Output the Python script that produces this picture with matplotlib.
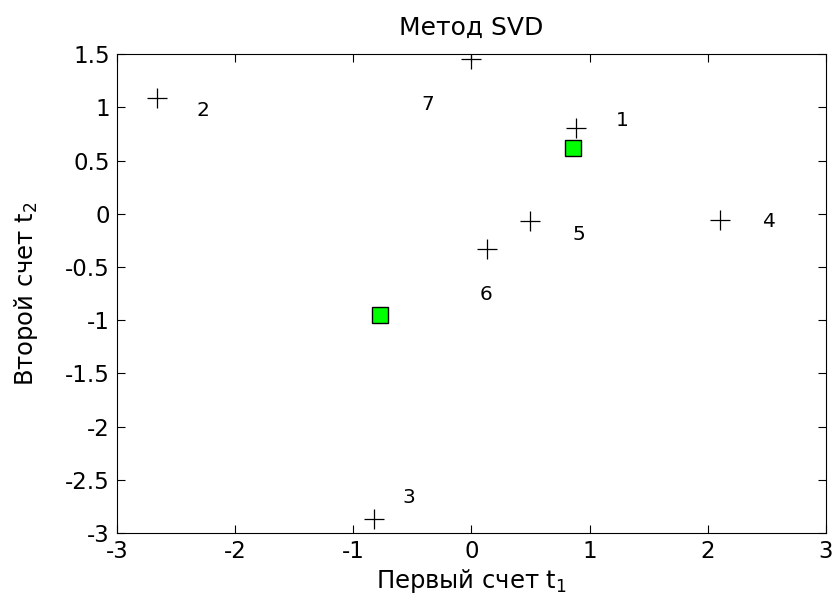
import matplotlib
matplotlib.use('Agg')
import matplotlib.pyplot as plt

plt.rcParams['font.family'] = 'DejaVu Sans'
plt.rcParams['mathtext.fontset'] = 'dejavusans'
plt.rcParams['axes.unicode_minus'] = False

# Счета объектов (крестики)
t1 = [0.883, -2.664, -0.829, 2.104, 0.499, 0.130, -0.005]
t2 = [0.811, 1.086, -2.864, -0.054, -0.070, -0.330, 1.453]

# Подписи объектов
metki = ['1', '2', '3', '4', '5', '6', '7']
metki_x = [1.275, -2.27, -0.533, 2.525, 0.905, 0.124, -0.366]
metki_y = [0.873, 0.974, -2.67, -0.07, -0.19, -0.756, 1.03]

# Центры (зелёные квадраты)
centr_x = [0.858, -0.775]
centr_y = [0.614, -0.953]

fig = plt.figure(figsize=(8.37, 6.03), dpi=100)
ax = fig.add_axes([0.1398, 0.1161, 0.847, 0.794])

ax.plot(t1, t2, '+', color='black', markersize=15, markeredgewidth=0.9)
ax.plot(centr_x, centr_y, 's', markerfacecolor='#00ff00', markeredgecolor='black',
        markersize=12, markeredgewidth=1.0)

for m, x, y in zip(metki, metki_x, metki_y):
    ax.text(x, y, m, ha='center', va='center', fontsize=14.5)

ax.set_xlim(-3, 3)
ax.set_ylim(-3, 1.5)
ax.set_xticks([-3, -2, -1, 0, 1, 2, 3])
ax.set_yticks([-3, -2.5, -2, -1.5, -1, -0.5, 0, 0.5, 1, 1.5])
ax.set_yticklabels(['-3', '-2.5', '-2', '-1.5', '-1', '-0.5', '0', '0.5', '1', '1.5'])
ax.tick_params(direction='in', top=True, right=True, length=6, width=0.8,
               labelsize=16.5, pad=5)

ax.set_title('Метод SVD', fontsize=18, pad=14)
ax.set_xlabel('Первый счет t$_1$', fontsize=17.5, labelpad=3)
ax.set_ylabel('Второй счет t$_2$', fontsize=17.5, labelpad=18)

for s in ax.spines.values():
    s.set_linewidth(0.8)

plt.savefig('out.png', dpi=100)
